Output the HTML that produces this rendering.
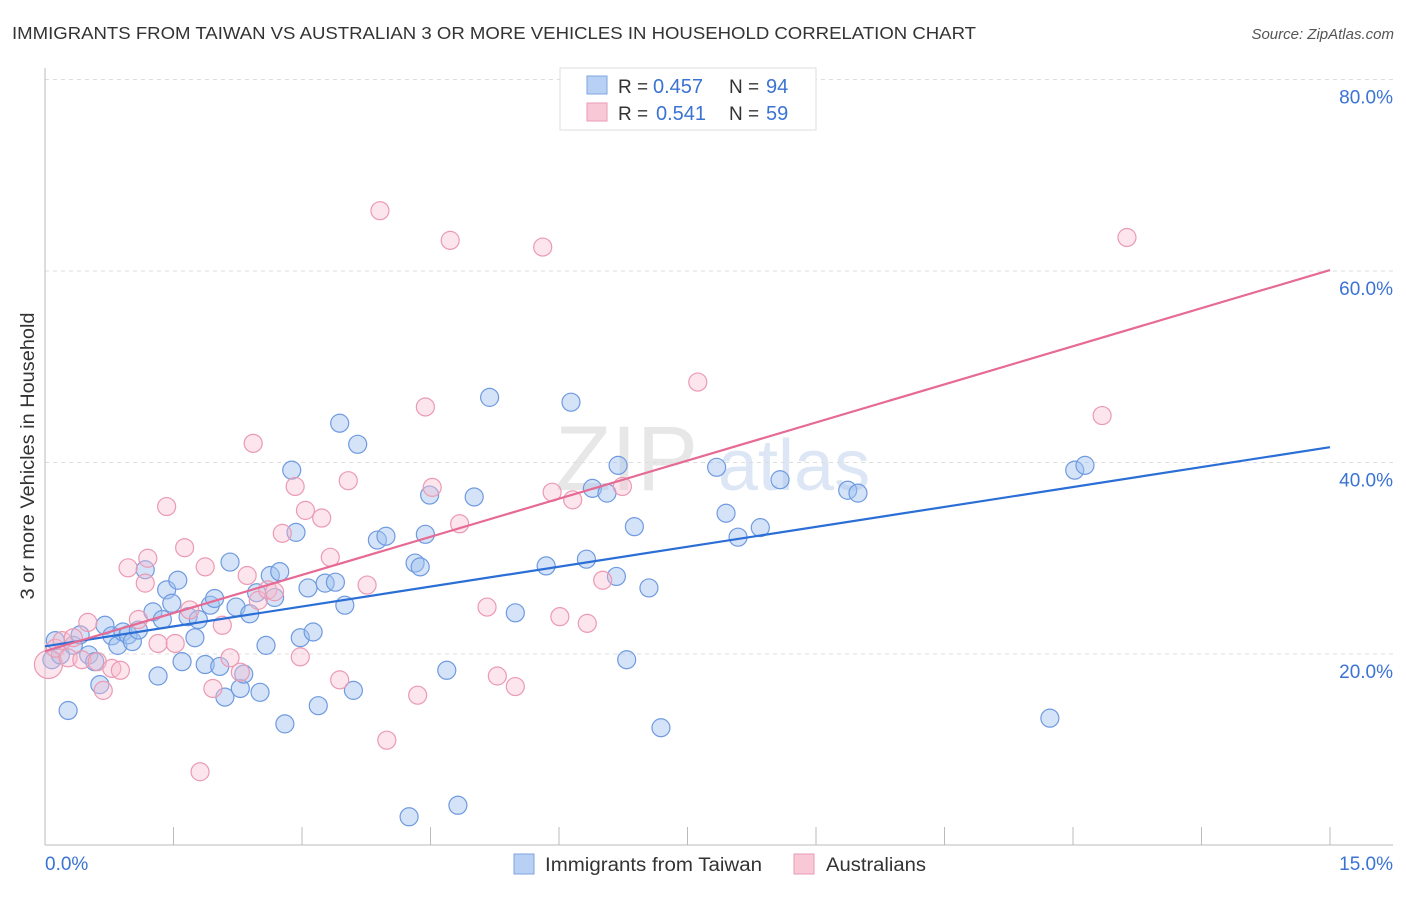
<!DOCTYPE html>
<html><head><meta charset="utf-8"><style>
body{margin:0;background:#fff;font-family:"Liberation Sans",sans-serif;}
svg text{font-family:"Liberation Sans",sans-serif;}
</style></head><body>
<svg id="c" width="1406" height="892">
<text x="12" y="39" font-size="17.5" fill="#333" textLength="964" lengthAdjust="spacingAndGlyphs">IMMIGRANTS FROM TAIWAN VS AUSTRALIAN 3 OR MORE VEHICLES IN HOUSEHOLD CORRELATION CHART</text>
<text x="1394" y="39" font-size="15" fill="#555" font-style="italic" text-anchor="end">Source: ZipAtlas.com</text>
<text x="0" y="0" transform="translate(34,456) rotate(-90)" font-size="19" fill="#333" text-anchor="middle" textLength="287" lengthAdjust="spacingAndGlyphs">3 or more Vehicles in Household</text>
<g><text x="555" y="490" font-size="92" fill="#d8d8d8" font-family="Liberation Serif" opacity="0.6">ZIP</text><text x="718" y="490" font-size="72" fill="#c5d7ef" opacity="0.6">atlas</text></g>
<g id="grid"></g><g id="pts"></g><g id="lines"></g>
<g>
<rect x="560" y="68" width="256" height="62" fill="#fff" stroke="#ddd"/>
<rect x="587" y="76" width="20" height="18" fill="#b8d0f4" stroke="#7ea6e0"/>
<rect x="587" y="103" width="20" height="18" fill="#f9c8d7" stroke="#eb9ab3"/>
<text x="618" y="93" font-size="19" fill="#333">R =</text><text x="653" y="93" font-size="20" fill="#3b73d4">0.457</text>
<text x="729" y="93" font-size="19" fill="#333">N =</text><text x="766" y="93" font-size="20" fill="#3b73d4">94</text>
<text x="618" y="120" font-size="19" fill="#333">R =</text><text x="656" y="120" font-size="20" fill="#3b73d4">0.541</text>
<text x="729" y="120" font-size="19" fill="#333">N =</text><text x="766" y="120" font-size="20" fill="#3b73d4">59</text>
</g>
<g>
<rect x="514" y="854" width="20" height="20" fill="#b8d0f4" stroke="#7ea6e0"/>
<text x="545" y="871" font-size="19" fill="#333" textLength="217" lengthAdjust="spacingAndGlyphs">Immigrants from Taiwan</text>
<rect x="794" y="854" width="20" height="20" fill="#f9c8d7" stroke="#eb9ab3"/>
<text x="826" y="871" font-size="19" fill="#333" textLength="100" lengthAdjust="spacingAndGlyphs">Australians</text>
</g>
</svg>
<script>
const blueX=[0.08,0.12,0.18,0.27,0.33,0.41,0.51,0.58,0.64,0.70,0.78,0.85,0.91,0.97,1.02,1.09,1.17,1.26,1.32,1.37,1.42,1.48,1.55,1.60,1.67,1.75,1.79,1.87,1.93,1.98,2.04,2.10,2.16,2.23,2.28,2.32,2.39,2.47,2.51,2.58,2.63,2.68,2.74,2.80,2.88,2.93,2.98,3.07,3.13,3.19,3.27,3.39,3.44,3.50,3.60,3.65,3.88,3.98,4.32,4.38,4.44,4.49,4.69,4.82,5.01,5.19,4.25,5.49,5.85,6.14,6.32,6.39,6.56,6.67,6.69,6.79,6.88,7.05,7.19,7.84,7.95,8.09,8.35,8.58,9.37,9.49,11.73,12.02,12.14];
const blueY=[19.4,21.4,19.9,14.1,20.9,22.0,19.9,19.2,16.8,23.0,21.9,20.9,22.3,22.0,21.3,22.5,28.8,24.4,17.7,23.6,26.7,25.3,27.7,19.2,23.9,21.7,23.6,18.9,25.1,25.8,18.7,15.5,29.6,24.9,16.4,17.9,24.2,26.4,16.0,20.9,28.2,25.9,28.6,12.7,39.2,32.7,21.7,26.9,22.3,14.6,27.4,27.5,44.1,25.1,16.2,41.9,31.9,32.3,29.5,29.1,32.5,36.6,18.3,4.2,36.4,46.8,3.0,24.3,29.2,46.3,29.9,37.3,36.8,28.1,39.7,19.4,33.3,26.9,12.3,39.5,34.7,32.2,33.2,38.2,37.1,36.8,13.3,39.2,39.7];
const pinkX=[0.04,0.12,0.20,0.27,0.33,0.43,0.50,0.61,0.68,0.78,0.88,0.97,1.09,1.17,1.20,1.32,1.42,1.52,1.63,1.69,1.81,1.87,1.96,2.07,2.16,2.28,2.36,2.43,2.49,2.60,2.68,2.77,2.92,2.98,3.04,3.23,3.33,3.44,3.54,3.76,3.91,3.99,4.35,4.44,4.52,4.73,4.84,5.16,5.28,5.49,5.81,5.92,6.01,6.16,6.33,6.51,6.74,7.62,12.34,12.63];
const pinkY=[18.9,20.6,21.4,19.6,21.7,19.4,23.3,19.2,16.2,18.5,18.3,29.0,23.6,27.4,30.0,21.1,35.4,21.1,31.1,24.6,7.7,29.1,16.4,23.0,19.6,18.1,28.2,42.0,25.6,26.7,26.5,32.6,37.5,19.7,35.0,34.2,30.1,17.3,38.1,27.2,66.3,11.0,15.7,45.8,37.4,63.2,33.6,24.9,17.7,16.6,62.5,36.9,23.9,36.1,23.2,27.7,37.5,48.4,44.9,63.5];
const blueTrend=[20.8,41.6];
const pinkTrend=[20.3,60.1];
const yTicks=[20,40,60,80];
const xTickLabels=["0.0%","15.0%"];
const NS="http://www.w3.org/2000/svg";
const sx=v=>45+v/15*1285, sy=v=>845.5-v/20*191.5;
function mk(t,a,p){const e=document.createElementNS(NS,t);for(const k in a)e.setAttribute(k,a[k]);p.appendChild(e);return e;}
const g=document.getElementById('grid');
yTicks.forEach(t=>{
 const l=mk('line',{x1:45,x2:1393,y1:sy(t),y2:sy(t),stroke:'#ddd','stroke-dasharray':'4,4'},g);
 
 
 const tx=mk('text',{x:1393,y:sy(t)+24,'font-size':19,fill:'#3b73d4','text-anchor':'end'},g);tx.textContent=t.toFixed(1)+'%';
 
 
});
mk('line',{x1:45,x2:45,y1:68,y2:845,stroke:'#bbb'},g);
mk('line',{x1:45,x2:1393,y1:845,y2:845,stroke:'#bbb'},g);
for(let i=1;i<=10;i++){const t=mk('line',{x1:sx(i*1.5),x2:sx(i*1.5),y1:827,y2:845,stroke:'#bbb'},g);
 
 }
[[0,45,'start'],[1,1393,'end']].forEach(([i,x,a])=>{const t=mk('text',{x:x,y:870,'font-size':19,fill:'#3b73d4','text-anchor':a},g);t.textContent=xTickLabels[i];
 
 });
const p=document.getElementById('pts');
blueX.forEach((x,i)=>{const c=mk('circle',{cx:sx(x),cy:sy(blueY[i]),r:9,fill:'rgba(160,192,240,0.45)',stroke:'#6f9ae0','stroke-width':1.2},p);
 
 });
pinkX.forEach((x,i)=>{const c=mk('circle',{cx:sx(x),cy:sy(pinkY[i]),r:i==0?14:9,fill:'rgba(248,190,208,0.4)',stroke:'#eb9ab3','stroke-width':1.2},p);
 
 });
const L=document.getElementById('lines');
const bl=mk('line',{x1:sx(0),y1:sy(blueTrend[0]),x2:sx(15),y2:sy(blueTrend[1]),stroke:'#2a6ed6','stroke-width':2.2},L);


const pl=mk('line',{x1:sx(0),y1:sy(pinkTrend[0]),x2:sx(15),y2:sy(pinkTrend[1]),stroke:'#e66a93','stroke-width':2.2},L);


</script>
</body></html>
